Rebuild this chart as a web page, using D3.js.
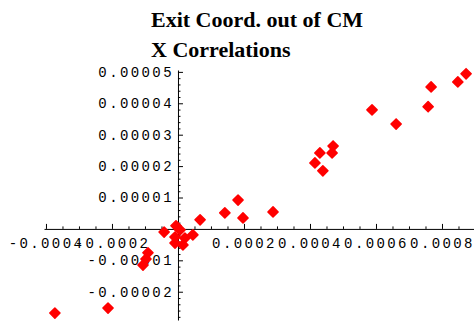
<!DOCTYPE html>
<html>
<head>
<meta charset="utf-8">
<script src="https://cdn.jsdelivr.net/npm/d3@7"></script>
<style>
  html, body { margin: 0; padding: 0; background: #fff; }
  svg { display: block; }
  .tick text { font-family: "Liberation Mono", "DejaVu Sans Mono", monospace; font-size: 14px; letter-spacing: 2.4px; fill: #000; }
  .title { font-family: "Liberation Serif", "Times New Roman", serif; font-weight: bold; font-size: 22px; fill: #000; }
</style>
</head>
<body>
<svg id="chart" width="474" height="322"></svg>
<script>
// Exit coordinate correlations (x vs x') out of the CM
const titleLines = ["Exit Coord. out of CM", "X Correlations"];

const xValues = [
  -0.000373, -0.000212, -0.000091, -0.000097, -0.000106,
  -0.000042, -0.000006, 0.000006, -0.000009, 0.000021,
  0.000015, -0.000009, 0.000045, 0.000067, 0.000142,
  0.000182, 0.000197, 0.000288, 0.000415, 0.000430,
  0.000439, 0.000467, 0.000470, 0.000588, 0.000661,
  0.000758, 0.000767, 0.000848, 0.000873
];
const yValues = [
  -0.0000268, -0.0000252, -0.0000076, -0.0000096, -0.0000115,
  -0.0000010, 0.0000010, -0.0000003, -0.0000026, -0.0000029,
  -0.0000051, -0.0000045, -0.0000019, 0.0000029, 0.0000051,
  0.0000092, 0.0000035, 0.0000054, 0.0000210, 0.0000242,
  0.0000185, 0.0000242, 0.0000264, 0.0000379, 0.0000334,
  0.0000389, 0.0000452, 0.0000468, 0.0000494
];

const xTicks = [-0.0004, -0.0002, 0.0002, 0.0004, 0.0006, 0.0008];
const xTickLabels = ["-0.0004", "-0.0002", "0.0002", "0.0004", "0.0006", "0.0008"];
const yTicks = [0.00005, 0.00004, 0.00003, 0.00002, 0.00001, -0.00001, -0.00002];
const yTickLabels = ["0.00005", "0.00004", "0.00003", "0.00002", "0.00001", "-0.00001", "-0.00002"];

const svg = d3.select("#chart");

const x = d3.scaleLinear().domain([-0.000406, 0.000897]).range([44, 474]);
const y = d3.scaleLinear().domain([0.0000506, -0.0000290]).range([70, 320]);

// Titles
svg.selectAll("text.title")
  .data(titleLines)
  .join("text")
  .attr("class", "title")
  .attr("x", 151)
  .attr("y", (d, i) => 27 + i * 30)
  .text(d => d);

// Minor ticks
const xMinor = d3.range(-0.0004, 0.00089, 0.00005).filter(v => !xTicks.some(t => Math.abs(t - v) < 1e-9));
const yMinor = d3.range(-0.000028, 0.0000505, 0.000002).filter(v => !yTicks.some(t => Math.abs(t - v) < 1e-10));

const xAxisG = svg.append("g").attr("transform", `translate(0,${y(0)})`);
xAxisG.append("g")
  .call(d3.axisBottom(x).tickValues(xMinor).tickSizeInner(-2.5).tickSizeOuter(0).tickFormat(""))
  .call(g => g.select(".domain").remove());
xAxisG.append("g")
  .call(d3.axisBottom(x).tickValues(xTicks).tickSizeInner(-5).tickSizeOuter(0)
    .tickPadding(9).tickFormat((d, i) => xTickLabels[i]));

const yAxisG = svg.append("g").attr("transform", `translate(${x(0)},0)`);
yAxisG.append("g")
  .call(d3.axisLeft(y).tickValues(yMinor).tickSizeInner(-2.5).tickSizeOuter(0).tickFormat(""))
  .call(g => g.select(".domain").remove());
yAxisG.append("g")
  .call(d3.axisLeft(y).tickValues(yTicks).tickSizeInner(-5).tickSizeOuter(0)
    .tickPadding(4).tickFormat((d, i) => yTickLabels[i]));

svg.selectAll(".domain, .tick line").attr("stroke", "#000").attr("stroke-width", 1);
svg.selectAll(".tick text").attr("fill", "#000");

// Points as red diamonds
const diamond = d3.symbol().type(d3.symbolSquare).size(52)();
svg.append("g")
  .selectAll("path")
  .data(xValues.map((v, i) => [v, yValues[i]]))
  .join("path")
  .attr("d", diamond)
  .attr("transform", d => `translate(${x(d[0])},${y(d[1])}) rotate(45)`)
  .attr("fill", "#ff0000")
  .attr("stroke", "#ff0000")
  .attr("stroke-width", 1.5)
  .attr("stroke-linejoin", "round");
</script>
</body>
</html>
